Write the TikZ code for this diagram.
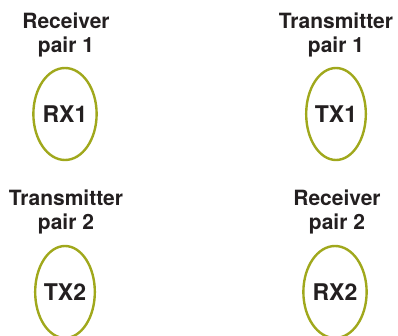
\documentclass[tikz,border=0pt]{standalone}
\usepackage{fontspec}
\setmainfont{TeX Gyre Heros}
\usetikzlibrary{shapes.geometric}
\definecolor{pairgreen}{RGB}{160,168,28}
\definecolor{labelgray}{RGB}{35,31,32}
\tikzset{
  pairlabel/.style={align=center, inner sep=0pt, text=labelgray,
    font=\fontsize{21}{24}\selectfont\bfseries},
  portoval/.style={ellipse, draw=pairgreen, line width=2.4pt, inner sep=0pt,
    minimum width=56pt, minimum height=92pt, text=labelgray,
    font=\fontsize{23}{26}\selectfont\bfseries}
}
\begin{document}
\begin{tikzpicture}[x=1pt, y=-1pt]
  \useasboundingbox (0,0) rectangle (398,336);

  % Pair 1
  \node[pairlabel] (rx1lab) at (66,34.6) {Receiver\\pair 1};
  \node[portoval] (rx1) at (65,114) {RX1};
  \node[pairlabel] (tx1lab) at (336,34.6) {Transmitter\\pair 1};
  \node[portoval] (tx1) at (336,114) {TX1};

  % Pair 2
  \node[pairlabel] (tx2lab) at (66,211.6) {Transmitter\\pair 2};
  \node[portoval] (tx2) at (65,292) {TX2};
  \node[pairlabel] (rx2lab) at (337,211.6) {Receiver\\pair 2};
  \node[portoval] (rx2) at (335,292) {RX2};
\end{tikzpicture}
\end{document}
